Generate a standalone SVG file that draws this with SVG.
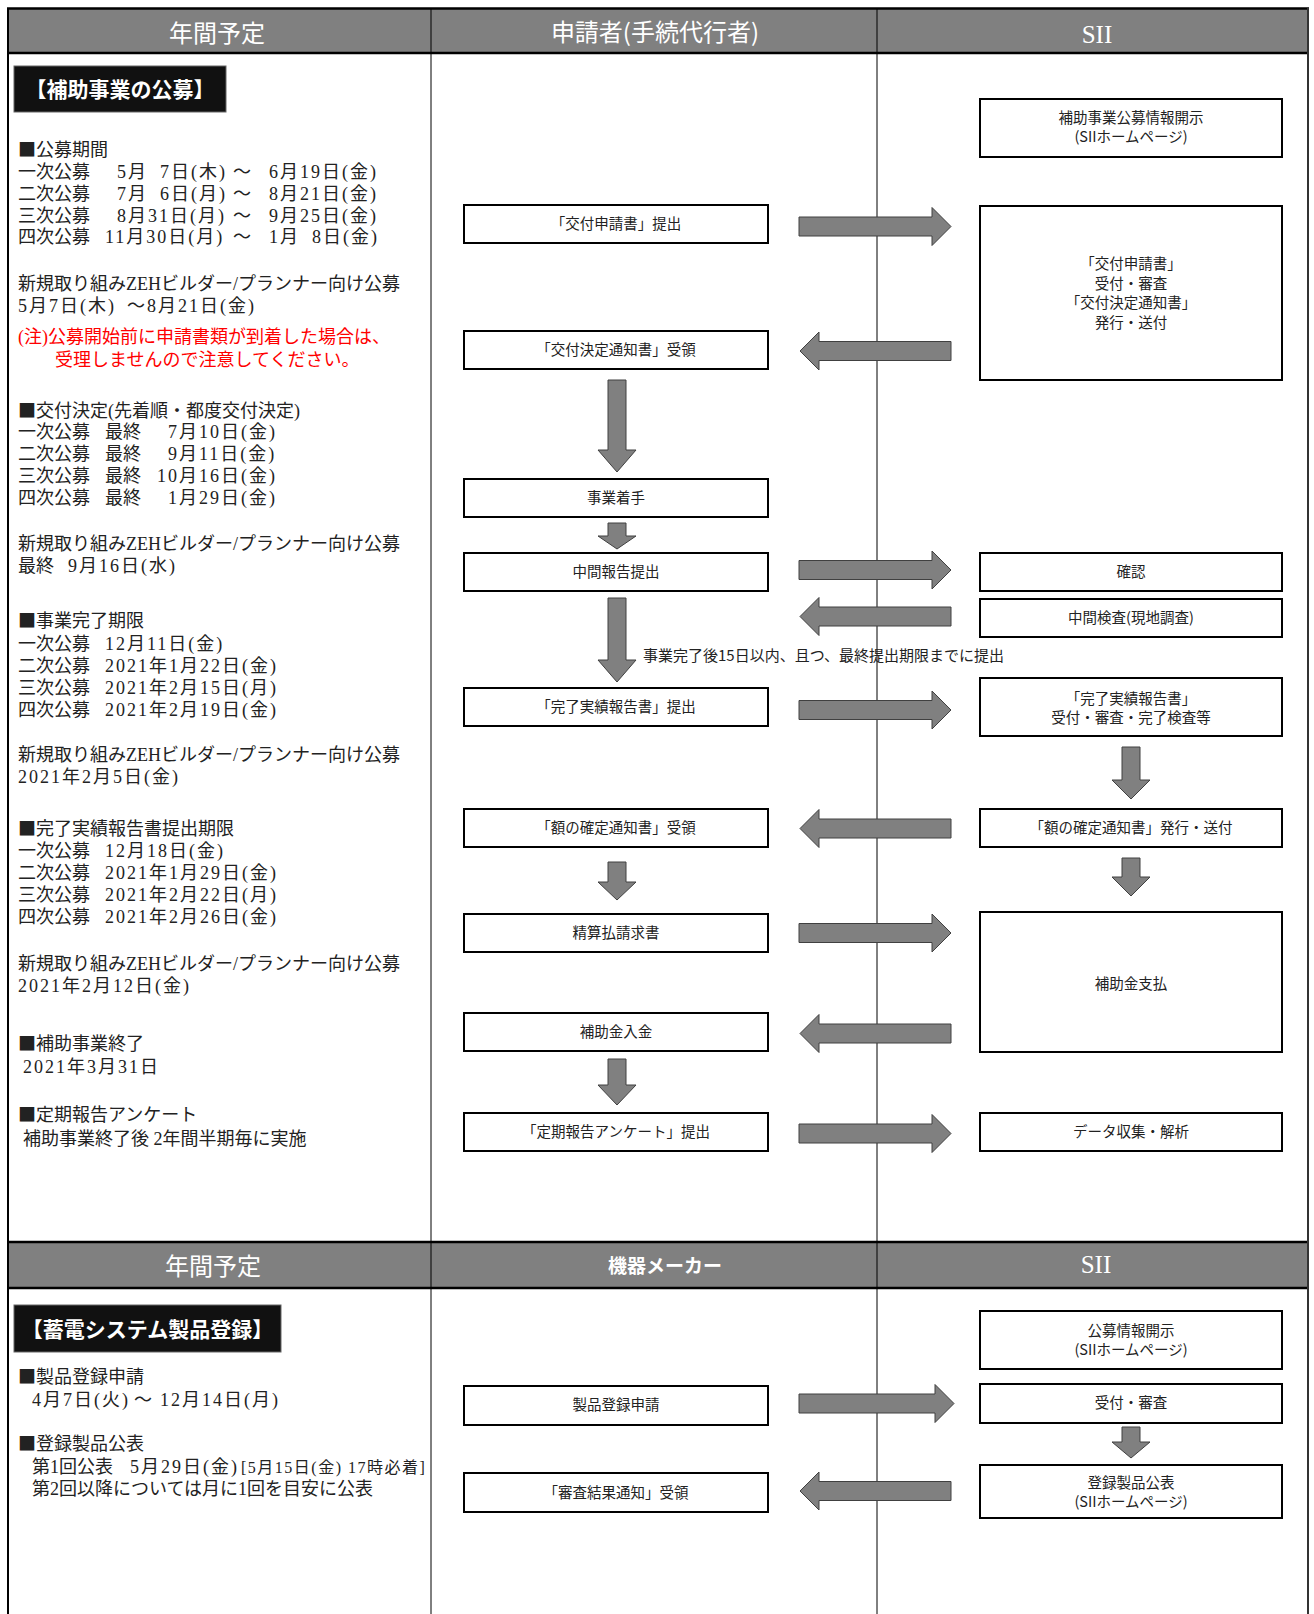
<svg xmlns="http://www.w3.org/2000/svg" width="1314" height="1614" viewBox="0 0 1314 1614">
<style>
.box{fill:#fff;stroke:#000;stroke-width:2}
.lbl{font-family:"Noto Sans CJK JP",sans-serif;font-size:14.5px;fill:#222;text-anchor:middle}
.arw{fill:#808080;stroke:#404040;stroke-width:1}
.body{font-family:"Liberation Serif","Noto Sans CJK JP",serif;font-size:18px;fill:#222}
.sq{font-family:"Noto Sans CJK JP",sans-serif}
.d{letter-spacing:2px}
.sm{font-size:16px;letter-spacing:1.5px}
.red{fill:#ff0000}
.hdr{font-family:"Noto Sans CJK JP",sans-serif;font-size:24px;fill:#fff;text-anchor:middle}
.sii{font-family:"Liberation Serif",serif;font-size:25px;fill:#fff;text-anchor:middle}
.tag{font-family:"Noto Sans CJK JP",sans-serif;font-size:21px;font-weight:bold;fill:#fff;text-anchor:middle}
.hband{fill:#808080}
.bline{stroke:#000;stroke-width:2.5}
.div{stroke:#000;stroke-width:1}
</style>
<rect width="1314" height="1614" fill="#fff"/>
<g id="frame">
<rect class="hband" x="8" y="8" width="1300" height="45"/>
<rect class="hband" x="8" y="1242" width="1300" height="46"/>
<line class="div" x1="431" y1="8" x2="431" y2="1614"/>
<line class="div" x1="877" y1="8" x2="877" y2="1614"/>
<line class="bline" x1="7" y1="8.5" x2="1309" y2="8.5"/>
<line class="bline" x1="7" y1="53" x2="1309" y2="53"/>
<line class="bline" x1="7" y1="1242" x2="1309" y2="1242"/>
<line class="bline" x1="7" y1="1288" x2="1309" y2="1288"/>
<line x1="8" y1="8" x2="8" y2="1614" stroke="#000" stroke-width="2"/>
<line x1="1308" y1="8" x2="1308" y2="1614" stroke="#333" stroke-width="2"/>
</g>
<g id="headers">
<text class="hdr" x="217" y="42">年間予定</text>
<text class="hdr" x="655" y="41">申請者(手続代行者)</text>
<text class="sii" x="1097" y="43">SII</text>
<text class="hdr" x="213" y="1275">年間予定</text>
<text class="hdr" x="665" y="1273" style="font-size:19px;font-weight:bold">機器メーカー</text>
<text class="sii" x="1096" y="1273">SII</text>
</g>
<g id="schedule-text">
<g id="tag1"><rect x="14" y="66" width="212" height="46" fill="#111" stroke="#666" stroke-width="1"/><text class="tag" x="120" y="97">【補助事業の公募】</text></g>
<text class="body" x="18" y="156"><tspan class="sq">■</tspan>公募期間</text>
<text class="body" y="177.5"><tspan x="18">一次公募</tspan><tspan class="d" x="117">5月</tspan><tspan class="d" x="160">7日(木)</tspan><tspan x="233">～</tspan><tspan class="d" x="269">6月19日(金)</tspan></text>
<text class="body" y="199.5"><tspan x="18">二次公募</tspan><tspan class="d" x="117">7月</tspan><tspan class="d" x="160">6日(月)</tspan><tspan x="233">～</tspan><tspan class="d" x="269">8月21日(金)</tspan></text>
<text class="body" y="221.5"><tspan x="18">三次公募</tspan><tspan class="d" x="117">8月31日(月)</tspan><tspan x="233">～</tspan><tspan class="d" x="269">9月25日(金)</tspan></text>
<text class="body" y="243"><tspan x="18">四次公募</tspan><tspan class="d" x="105">11月30日(月)</tspan><tspan x="233">～</tspan><tspan class="d" x="269">1月</tspan><tspan class="d" x="312">8日(金)</tspan></text>
<text class="body" x="18" y="290">新規取り組みZEHビルダー/プランナー向け公募</text>
<text class="body" y="312"><tspan class="d" x="18">5月7日(木)</tspan><tspan x="127">～</tspan><tspan class="d" x="147">8月21日(金)</tspan></text>
<text class="body red" x="18" y="343">(注)公募開始前に申請書類が到着した場合は、</text>
<text class="body red" x="55" y="366">受理しませんので注意してください。</text>
<text class="body" x="18" y="416.5"><tspan class="sq">■</tspan>交付決定(先着順・都度交付決定)</text>
<text class="body" y="438"><tspan x="18">一次公募</tspan><tspan x="105">最終</tspan><tspan class="d" x="168">7月10日(金)</tspan></text>
<text class="body" y="460"><tspan x="18">二次公募</tspan><tspan x="105">最終</tspan><tspan class="d" x="168">9月11日(金)</tspan></text>
<text class="body" y="482"><tspan x="18">三次公募</tspan><tspan x="105">最終</tspan><tspan class="d" x="157">10月16日(金)</tspan></text>
<text class="body" y="504"><tspan x="18">四次公募</tspan><tspan x="105">最終</tspan><tspan class="d" x="168">1月29日(金)</tspan></text>
<text class="body" x="18" y="550">新規取り組みZEHビルダー/プランナー向け公募</text>
<text class="body" y="572"><tspan x="18">最終</tspan><tspan class="d" x="68">9月16日(水)</tspan></text>
<text class="body" x="18" y="627"><tspan class="sq">■</tspan>事業完了期限</text>
<text class="body" y="649.5"><tspan x="18">一次公募</tspan><tspan class="d" x="105">12月11日(金)</tspan></text>
<text class="body" y="671.5"><tspan x="18">二次公募</tspan><tspan class="d" x="105">2021年1月22日(金)</tspan></text>
<text class="body" y="693.5"><tspan x="18">三次公募</tspan><tspan class="d" x="105">2021年2月15日(月)</tspan></text>
<text class="body" y="715.5"><tspan x="18">四次公募</tspan><tspan class="d" x="105">2021年2月19日(金)</tspan></text>
<text class="body" x="18" y="761">新規取り組みZEHビルダー/プランナー向け公募</text>
<text class="body d" x="18" y="783">2021年2月5日(金)</text>
<text class="body" x="18" y="835"><tspan class="sq">■</tspan>完了実績報告書提出期限</text>
<text class="body" y="857"><tspan x="18">一次公募</tspan><tspan class="d" x="105">12月18日(金)</tspan></text>
<text class="body" y="879"><tspan x="18">二次公募</tspan><tspan class="d" x="105">2021年1月29日(金)</tspan></text>
<text class="body" y="901"><tspan x="18">三次公募</tspan><tspan class="d" x="105">2021年2月22日(月)</tspan></text>
<text class="body" y="923"><tspan x="18">四次公募</tspan><tspan class="d" x="105">2021年2月26日(金)</tspan></text>
<text class="body" x="18" y="969.5">新規取り組みZEHビルダー/プランナー向け公募</text>
<text class="body d" x="18" y="991.5">2021年2月12日(金)</text>
<text class="body" x="18" y="1050"><tspan class="sq">■</tspan>補助事業終了</text>
<text class="body d" x="23" y="1073">2021年3月31日</text>
<text class="body" x="18" y="1121"><tspan class="sq">■</tspan>定期報告アンケート</text>
<text class="body" x="23" y="1145">補助事業終了後 2年間半期毎に実施</text>
<g id="tag2"><rect x="14" y="1305" width="267" height="47" fill="#111" stroke="#666" stroke-width="1"/><text class="tag" x="147.5" y="1337">【蓄電システム製品登録】</text></g>
<text class="body" x="18" y="1383"><tspan class="sq">■</tspan>製品登録申請</text>
<text class="body" y="1406"><tspan class="d" x="32">4月7日(火)</tspan><tspan x="134">～</tspan><tspan class="d" x="160">12月14日(月)</tspan></text>
<text class="body" x="18" y="1450"><tspan class="sq">■</tspan>登録製品公表</text>
<text class="body" y="1473"><tspan x="32">第1回公表</tspan><tspan class="d" x="130">5月29日(金)</tspan><tspan class="sm" x="241">[5月15日(金)</tspan><tspan class="sm" x="348">17時必着]</tspan></text>
<text class="body" x="32" y="1495">第2回以降については月に1回を目安に公表</text>
</g>
<g id="connectors">
<polygon class="arw" points="799,217 932,217 932,207.5 951,226.5 932,245.5 932,236 799,236"/>
<polygon class="arw" points="951,341.5 819,341.5 819,332 800,351 819,370 819,360.5 951,360.5"/>
<polygon class="arw" points="799,560.5 932,560.5 932,551 951,570 932,589 932,579.5 799,579.5"/>
<polygon class="arw" points="951,607 819,607 819,597.5 800,616.5 819,635.5 819,626 951,626"/>
<polygon class="arw" points="799,700.5 932,700.5 932,691 951,710 932,729 932,719.5 799,719.5"/>
<polygon class="arw" points="951,819 819,819 819,809.5 800,828.5 819,847.5 819,838 951,838"/>
<polygon class="arw" points="799,923.5 932,923.5 932,914 951,933 932,952 932,942.5 799,942.5"/>
<polygon class="arw" points="951,1024 819,1024 819,1014.5 800,1033.5 819,1052.5 819,1043 951,1043"/>
<polygon class="arw" points="799,1124 932,1124 932,1114.5 951,1133.5 932,1152.5 932,1143 799,1143"/>
<polygon class="arw" points="799,1394 935,1394 935,1384.5 954,1403.5 935,1422.5 935,1413 799,1413"/>
<polygon class="arw" points="951,1481.5 819,1481.5 819,1472 800,1491 819,1510 819,1500.5 951,1500.5"/>
<polygon class="arw" points="608,380 626,380 626,450 636,450 617,472 598,450 608,450"/>
<polygon class="arw" points="608,523 626,523 626,536 636,536 617,549 598,536 608,536"/>
<polygon class="arw" points="608,598 626,598 626,660 636,660 617,682 598,660 608,660"/>
<polygon class="arw" points="1122,747 1140,747 1140,780 1150,780 1131,799 1112,780 1122,780"/>
<polygon class="arw" points="608,862 626,862 626,882 636,882 617,900 598,882 608,882"/>
<polygon class="arw" points="1122,858 1140,858 1140,877 1150,877 1131,896 1112,877 1122,877"/>
<polygon class="arw" points="608,1059 626,1059 626,1085 636,1085 617,1105 598,1085 608,1085"/>
<polygon class="arw" points="1122,1427 1140,1427 1140,1442 1150,1442 1131,1458 1112,1442 1122,1442"/>
<text class="lbl" x="643" y="661" style="text-anchor:start;font-size:15px">事業完了後15日以内、且つ、最終提出期限までに提出</text>
</g>
<g id="n-l1"><rect class="box" x="464" y="205" width="304" height="38"/><text class="lbl" x="616" y="229">「交付申請書」提出</text></g>
<g id="n-l2"><rect class="box" x="464" y="331" width="304" height="38"/><text class="lbl" x="616" y="355">「交付決定通知書」受領</text></g>
<g id="n-l3"><rect class="box" x="464" y="479" width="304" height="38"/><text class="lbl" x="616" y="503">事業着手</text></g>
<g id="n-l4"><rect class="box" x="464" y="553" width="304" height="38"/><text class="lbl" x="616" y="577">中間報告提出</text></g>
<g id="n-l5"><rect class="box" x="464" y="688" width="304" height="38"/><text class="lbl" x="616" y="712">「完了実績報告書」提出</text></g>
<g id="n-l6"><rect class="box" x="464" y="809" width="304" height="38"/><text class="lbl" x="616" y="833">「額の確定通知書」受領</text></g>
<g id="n-l7"><rect class="box" x="464" y="914" width="304" height="38"/><text class="lbl" x="616" y="938">精算払請求書</text></g>
<g id="n-l8"><rect class="box" x="464" y="1013" width="304" height="38"/><text class="lbl" x="616" y="1037">補助金入金</text></g>
<g id="n-l9"><rect class="box" x="464" y="1113" width="304" height="38"/><text class="lbl" x="616" y="1137">「定期報告アンケート」提出</text></g>
<g id="n-l10"><rect class="box" x="464" y="1386" width="304" height="39"/><text class="lbl" x="616" y="1410">製品登録申請</text></g>
<g id="n-l11"><rect class="box" x="464" y="1473" width="304" height="39"/><text class="lbl" x="616" y="1498">「審査結果通知」受領</text></g>
<g id="n-r1"><rect class="box" x="980" y="99" width="302" height="58"/><text class="lbl" x="1131" y="123">補助事業公募情報開示</text><text class="lbl" x="1131" y="142">(SIIホームページ)</text></g>
<g id="n-r2"><rect class="box" x="980" y="206" width="302" height="174"/><text class="lbl" x="1131" y="269">「交付申請書」</text><text class="lbl" x="1131" y="289">受付・審査</text><text class="lbl" x="1131" y="308">「交付決定通知書」</text><text class="lbl" x="1131" y="328">発行・送付</text></g>
<g id="n-r3"><rect class="box" x="980" y="553" width="302" height="38"/><text class="lbl" x="1131" y="577">確認</text></g>
<g id="n-r4"><rect class="box" x="980" y="599" width="302" height="38"/><text class="lbl" x="1131" y="623">中間検査(現地調査)</text></g>
<g id="n-r5"><rect class="box" x="980" y="678" width="302" height="58"/><text class="lbl" x="1131" y="704">「完了実績報告書」</text><text class="lbl" x="1131" y="723">受付・審査・完了検査等</text></g>
<g id="n-r6"><rect class="box" x="980" y="809" width="302" height="38"/><text class="lbl" x="1131" y="833">「額の確定通知書」発行・送付</text></g>
<g id="n-r7"><rect class="box" x="980" y="912" width="302" height="140"/><text class="lbl" x="1131" y="989">補助金支払</text></g>
<g id="n-r8"><rect class="box" x="980" y="1113" width="302" height="38"/><text class="lbl" x="1131" y="1137">データ収集・解析</text></g>
<g id="n-r9"><rect class="box" x="980" y="1311" width="302" height="58"/><text class="lbl" x="1131" y="1336">公募情報開示</text><text class="lbl" x="1131" y="1355">(SIIホームページ)</text></g>
<g id="n-r10"><rect class="box" x="980" y="1384" width="302" height="39"/><text class="lbl" x="1131" y="1408">受付・審査</text></g>
<g id="n-r11"><rect class="box" x="980" y="1465" width="302" height="53"/><text class="lbl" x="1131" y="1488">登録製品公表</text><text class="lbl" x="1131" y="1507">(SIIホームページ)</text></g>
</svg>
